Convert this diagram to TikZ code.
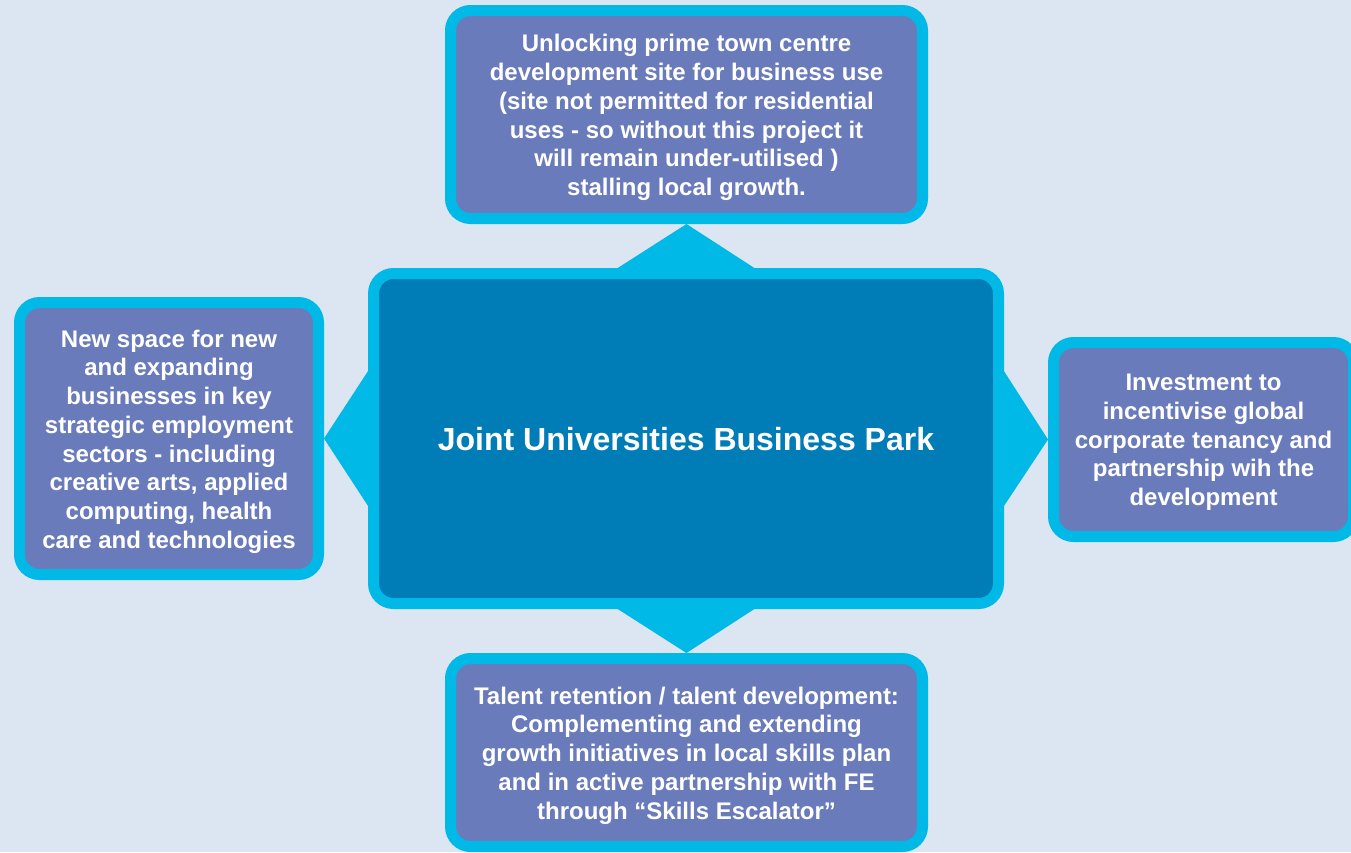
\documentclass[tikz,border=0pt]{standalone}
\usepackage{fontspec}
\setmainfont{Liberation Sans}
\definecolor{bgcol}{HTML}{DCE6F2}
\definecolor{cyanb}{HTML}{00B9E7}
\definecolor{darkb}{HTML}{007CB6}
\definecolor{purpb}{HTML}{6A7BBC}
\tikzset{
  box/.style={draw=cyanb, line width=11pt, rounded corners=20pt, fill=purpb, inner sep=0pt},
  hub/.style={box, fill=darkb},
  txt/.style={text=white, align=center, inner sep=0pt, yshift=-3pt,
    font=\fontsize{24}{28.7}\selectfont\bfseries},
  hubtxt/.style={txt, yshift=2pt, font=\fontsize{32}{38}\selectfont\bfseries},
  tri/.style={fill=cyanb, draw=none}
}
\begin{document}
\begin{tikzpicture}[x=1pt,y=-1pt]
\fill[bgcol] (0,0) rectangle (1351,852);
\useasboundingbox (0,0) rectangle (1351,852);
\clip (0,0) rectangle (1351,852);

\node[hub, minimum width=625pt, minimum height=330pt] (hub) at (686,438.5) {};
\node[box, minimum width=472pt, minimum height=208pt] (top) at (686.5,114.5) {};
\node[box, minimum width=472pt, minimum height=188pt] (bot) at (686.5,752.5) {};
\node[box, minimum width=299pt, minimum height=272pt] (left) at (169,438.5) {};
\node[box, minimum width=300pt, minimum height=194pt] (right) at (1203.5,439.5) {};

\node[hubtxt] (hubt) at (hub.center) {Joint Universities Business Park};
\node[txt] (topt) at (top.center)
  {Unlocking prime town centre\\development site for business use\\(site not permitted for residential\\uses - so without this project it\\will remain under-utilised )\\stalling local growth.};
\node[txt] (bott) at (bot.center)
  {Talent retention / talent development:\\Complementing and extending\\growth initiatives in local skills plan\\and in active partnership with FE\\through “Skills Escalator”};
\node[txt] (leftt) at (left.center)
  {New space for new\\and expanding\\businesses in key\\strategic employment\\sectors - including\\creative arts, applied\\computing, health\\care and technologies};
\node[txt] (rightt) at (right.center)
  {Investment to\\incentivise global\\corporate tenancy and\\partnership wih the\\development};

% connector triangles
\fill[tri] ([xshift=-73pt,yshift=-3pt]hub.north) -- (top.south) -- ([xshift=73pt,yshift=-3pt]hub.north) -- cycle;
\fill[tri] ([xshift=-73pt,yshift=3pt]hub.south) -- (bot.north) -- ([xshift=73pt,yshift=3pt]hub.south) -- cycle;
\fill[tri] ([xshift=3pt,yshift=-72pt]hub.west) -- (left.east) -- ([xshift=3pt,yshift=72pt]hub.west) -- cycle;
\fill[tri] ([xshift=-3pt,yshift=-72pt]hub.east) -- (right.west) -- ([xshift=-3pt,yshift=72pt]hub.east) -- cycle;
\end{tikzpicture}
\end{document}
